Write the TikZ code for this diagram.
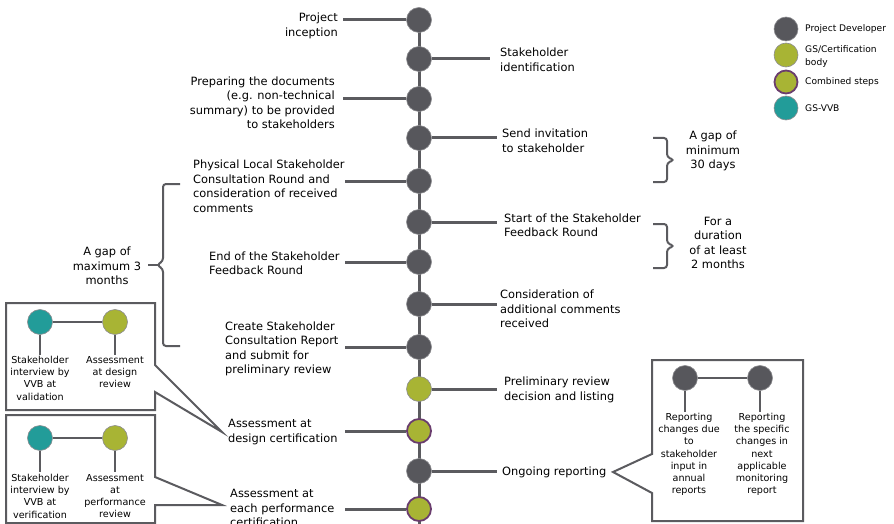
\documentclass[tikz,border=0pt]{standalone}
\usepackage{fontspec}
\setmainfont{DejaVu Sans}
\definecolor{dev}{HTML}{57575C}
\definecolor{gsc}{HTML}{A8B434}
\definecolor{vvb}{HTML}{229C99}
\definecolor{comb}{HTML}{6A3D6E}
\definecolor{ln}{HTML}{5B5B5F}
\definecolor{rim}{HTML}{8C8C90}
\begin{document}
\begin{tikzpicture}[x=1pt,y=-1pt,
  dot/.style={circle,minimum size=25pt,inner sep=0pt,draw=rim,line width=0.6pt},
  devdot/.style={dot,fill=dev},
  gsdot/.style={dot,fill=gsc},
  combdot/.style={dot,fill=gsc,draw=comb,line width=1.8pt,minimum size=24pt},
  vvbdot/.style={dot,fill=vvb},
  legdot/.style={minimum size=24pt},
  lbl/.style={inner sep=0pt,font=\fontsize{11.4}{14.5}\selectfont},
  small/.style={inner sep=0pt,font=\fontsize{9.6}{12.2}\selectfont,align=center},
  leg/.style={inner sep=0pt,font=\fontsize{9.1}{13}\selectfont,align=left,anchor=west},
  branch/.style={draw=ln,line width=3pt},
  inner/.style={draw=ln,line width=2.6pt},
  thin/.style={draw=ln,line width=2pt},
  brace/.style={draw=ln,line width=2pt,rounded corners=3pt}
]
\useasboundingbox (0,0) rectangle (894,524);

% spine
\coordinate (bottom) at (419,524);
\draw[branch] (419,20) -- (bottom);

% main circles
\node[devdot] (c1) at (419,20) {};
\node[devdot] (c2) at (419,59) {};
\node[devdot] (c3) at (419,99) {};
\node[devdot] (c4) at (419,138) {};
\node[devdot] (c5) at (419,181) {};
\node[devdot] (c6) at (419,222) {};
\node[devdot] (c7) at (419,262) {};
\node[devdot] (c8) at (419,304) {};
\node[devdot] (c9) at (419,347) {};
\node[gsdot] (c10) at (419,389) {};
\node[combdot] (c11) at (419,431) {};
\node[devdot] (c12) at (419,471) {};
\node[combdot] (c13) at (419,509) {};

% left labels
\node[lbl,align=right,anchor=east] (l1) at (338,26) {Project\\inception};
\coordinate (e1) at (343,20);
\draw[branch] (e1) -- (c1);
\node[lbl,align=right,anchor=east] (l3) at (335,103) {Preparing the documents\\(e.g. non-technical\\summary) to be provided\\to stakeholders};
\coordinate (e3) at (343,99);
\draw[branch] (e3) -- (c3);
\node[lbl,align=left,anchor=west] (l5) at (193,186) {Physical Local Stakeholder\\Consultation Round and\\consideration of received\\comments};
\coordinate (e5) at (345,181);
\draw[branch] (e5) -- (c5);
\node[lbl,align=left,anchor=west] (l7) at (209,263) {End of the Stakeholder\\Feedback Round};
\coordinate (e7) at (345,262);
\draw[branch] (e7) -- (c7);
\node[lbl,align=left,anchor=west] (l9) at (225,349) {Create Stakeholder\\Consultation Report\\and submit for\\preliminary review};
\coordinate (e9) at (345,347);
\draw[branch] (e9) -- (c9);
\node[lbl,align=left,anchor=west] (l11) at (228,432) {Assessment at\\design certification};
\coordinate (e11) at (345,431);
\draw[branch] (e11) -- (c11);
\node[lbl,align=left,anchor=west] (l13) at (230,508) {Assessment at\\each performance\\certification};
\coordinate (e13) at (345,509);
\draw[branch] (e13) -- (c13);

% right labels
\node[lbl,align=left,anchor=west] (r2) at (500,60) {Stakeholder\\identification};
\coordinate (f2) at (490,59);
\draw[branch] (c2) -- (f2);
\node[lbl,align=left,anchor=west] (r4) at (502,141) {Send invitation\\to stakeholder};
\coordinate (f4) at (497,138);
\draw[branch] (c4) -- (f4);
\node[lbl,align=left,anchor=west] (r6) at (504,225) {Start of the Stakeholder\\Feedback Round};
\coordinate (f6) at (497,222);
\draw[branch] (c6) -- (f6);
\node[lbl,align=left,anchor=west] (r8) at (500,309) {Consideration of\\additional comments\\received};
\coordinate (f8) at (497,304);
\draw[branch] (c8) -- (f8);
\node[lbl,align=left,anchor=west] (r10) at (504,390) {Preliminary review\\decision and listing};
\coordinate (f10) at (497,389);
\draw[branch] (c10) -- (f10);
\node[lbl,align=left,anchor=west] (r12) at (502,472) {Ongoing reporting};
\coordinate (f12) at (497,471);
\draw[branch] (c12) -- (f12);

% right braces
\draw[brace] (653,138) -- (667,138) -- (667,157) -- (674,160) -- (667,163) -- (667,182) -- (653,182);
\node[lbl,align=center] (g1) at (713,151) {A gap of\\minimum\\30 days};
\draw[brace] (653,224) -- (667,224) -- (667,243) -- (674,246) -- (667,249) -- (667,268) -- (653,268);
\node[lbl,align=center] (g2) at (718,243) {For a\\duration\\of at least\\2 months};

% left brace
\draw[brace] (180,184) -- (163,184) -- (163,261) -- (157,265) -- (163,269) -- (163,346) -- (180,346);
\draw[thin] (148,265) -- (158,265);
\node[lbl,align=center] (g3) at (107,266) {A gap of\\maximum 3\\months};

% box 1 (design)
\draw[thin] (155,365) -- (155,303) -- (6,303) -- (6,410) -- (155,410) -- (155,392) -- (222,432) -- cycle;
\node[vvbdot] (b1a) at (40,322) {};
\node[gsdot] (b1b) at (115,322) {};
\draw[inner] (b1a) -- (b1b);
\coordinate (b1ae) at (40,355);
\coordinate (b1be) at (115,355);
\draw[inner] (b1a) -- (b1ae);
\draw[inner] (b1b) -- (b1be);
\node[small,anchor=north] (t1a) at (40,356) {Stakeholder\\interview by\\VVB at\\validation};
\node[small,anchor=north] (t1b) at (115,356) {Assessment\\at design\\review};

% box 2 (performance)
\draw[thin] (155,477) -- (155,415) -- (6,415) -- (6,523) -- (155,523) -- (155,505) -- (222,505) -- cycle;
\node[vvbdot] (b2a) at (40,438) {};
\node[gsdot] (b2b) at (115,438) {};
\draw[inner] (b2a) -- (b2b);
\coordinate (b2ae) at (40,472);
\coordinate (b2be) at (115,472);
\draw[inner] (b2a) -- (b2ae);
\draw[inner] (b2b) -- (b2be);
\node[small,anchor=north] (t2a) at (40,474) {Stakeholder\\interview by\\VVB at\\verification};
\node[small,anchor=north] (t2b) at (115,474) {Assessment\\at\\performance\\review};

% box 3 (ongoing reporting)
\draw[thin] (652,454) -- (652,360) -- (803,360) -- (803,521) -- (652,521) -- (652,493) -- (613,472) -- cycle;
\node[devdot] (b3a) at (685,378) {};
\node[devdot] (b3b) at (760,378) {};
\draw[inner] (b3a) -- (b3b);
\coordinate (b3ae) at (685,412);
\coordinate (b3be) at (760,412);
\draw[inner] (b3a) -- (b3ae);
\draw[inner] (b3b) -- (b3be);
\node[small,anchor=north] (t3a) at (689,413) {Reporting\\changes due\\to\\stakeholder\\input in\\annual\\reports};
\node[small,anchor=north] (t3b) at (762,413) {Reporting\\the specific\\changes in\\next\\applicable\\monitoring\\report};

% legend
\node[devdot,legdot] (k1) at (786,29) {};
\node[gsdot,legdot] (k2) at (786,55) {};
\node[combdot,minimum size=23pt] (k3) at (786,82) {};
\node[vvbdot,legdot] (k4) at (786,108) {};
\node[leg] (kt1) at (805,29) {Project Developer};
\node[leg,font=\fontsize{9.1}{13}\selectfont] (kt2) at (805,56) {GS/Certification\\body};
\node[leg] (kt3) at (805,82) {Combined steps};
\node[leg] (kt4) at (805,108) {GS-VVB};
\end{tikzpicture}
\end{document}
